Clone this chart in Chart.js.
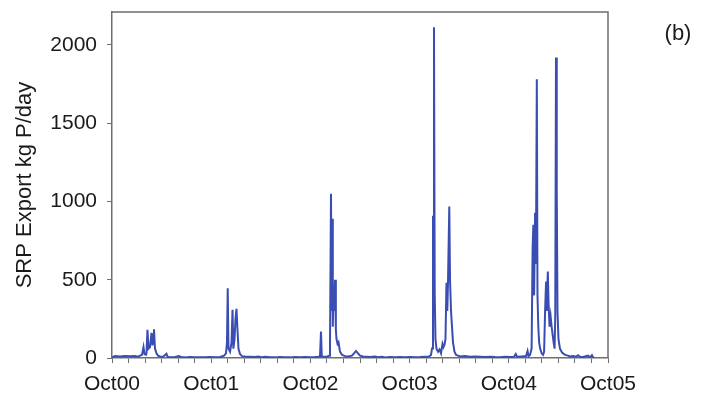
<!DOCTYPE html>
<html><head><meta charset="utf-8">
<script src="https://cdn.jsdelivr.net/npm/chart.js@4"></script>
<style>html,body{margin:0;padding:0;background:#fff}#wrap{width:701px;height:399px}</style>
</head><body><div id="wrap"><canvas id="c" width="701" height="399"></canvas></div>
<script>
// months since Oct 2000
const months = [0,0.36,0.97,1.57,2.18,2.78,3.15,3.39,3.63,3.81,3.93,4.11,4.17,4.29,4.42,4.60,4.78,4.90,5.02,5.08,5.20,5.38,5.56,5.81,6.17,6.59,6.71,7.02,7.62,8.10,8.35,8.83,9.44,10.04,10.65,11.25,11.86,
12.46,13.07,13.55,13.79,13.91,14.00,14.09,14.28,14.46,14.58,14.68,14.82,14.94,15.06,15.16,15.30,15.48,15.73,16.09,16.69,17.30,17.66,18.15,18.51,19.11,19.72,20.32,20.93,21.53,22.14,22.74,23.35,23.95,
24.56,24.92,25.16,25.28,25.38,25.65,26.01,26.25,26.37,26.49,26.58,26.64,26.71,26.80,26.86,26.98,27.08,27.16,27.28,27.40,27.58,27.83,28.19,28.55,29.03,29.28,29.52,29.76,30.00,30.36,30.85,31.21,31.81,32.18,32.66,33.02,33.63,34.23,34.84,35.44,
36.05,36.65,37.26,37.86,38.35,38.59,38.71,38.83,38.89,38.95,39.04,39.13,39.25,39.44,39.62,39.80,39.98,40.10,40.22,40.34,40.46,40.56,40.65,40.80,40.89,41.01,41.13,41.25,41.43,41.62,41.86,42.10,42.70,43.31,43.91,44.52,45.12,45.73,46.33,46.94,47.54,
48.15,48.63,48.84,49.00,49.60,50.09,50.27,50.39,50.57,50.76,50.88,50.97,51.06,51.18,51.28,51.39,51.47,51.57,51.67,51.79,51.97,52.14,52.27,52.39,52.51,52.59,52.72,52.81,52.93,53.06,53.18,53.30,53.42,53.54,53.62,53.71,53.80,53.89,54.01,54.19,54.44,54.80,55.16,55.41,55.77,56.13,56.37,56.61,56.98,57.22,57.58,57.82,58.06,58.19,58.31];
// SRP export, kg P/day
const srp = [5,12,10,12,11,12,8,15,20,70,25,20,30,180,60,70,160,80,150,184,60,30,15,10,8,27,8,5,6,12,5,4,6,5,4,5,6,
5,6,15,30,100,446,60,40,100,308,60,120,250,314,200,60,25,12,10,8,6,10,5,8,5,4,6,5,4,6,5,6,5,
6,8,10,169,10,8,8,15,60,1049,300,889,200,450,300,500,180,120,90,100,40,20,12,10,15,30,45,30,15,10,8,6,10,5,8,4,6,5,6,5,
6,5,6,8,10,20,60,908,300,2113,400,120,60,40,55,30,90,70,85,120,480,300,500,968,500,300,200,100,40,20,15,10,12,8,10,8,6,8,6,5,8,
6,8,25,8,10,12,45,12,20,60,700,851,400,927,600,1781,400,200,100,60,30,20,40,300,489,300,552,350,200,265,200,150,100,60,274,1919,1074,300,120,60,35,20,15,10,12,8,18,8,6,10,15,5,18,5,3];
const yTickValues = [0,500,1000,1500,2000];
const xTickValues = [0,2,4,6,8,10,12,14,16,18,20,22,24,26,28,30,32,34,36,38,40,42,44,46,48,50,52,54,56,58,60];
const xLabelMonths = [0,12,24,36,48,60];
const xLabels = ['Oct00','Oct01','Oct02','Oct03','Oct04','Oct05'];
const yTitle = 'SRP Export kg P/day';
const panelLabel = '(b)';

const FONT = 'Liberation Sans, Arial, Helvetica, sans-serif';
const framePlugin = {
  id: 'frame',
  afterDraw(chart) {
    const {ctx, chartArea: a} = chart;
    ctx.save();
    ctx.strokeStyle = '#6e6e6e';
    ctx.lineWidth = 1.5;
    ctx.beginPath();
    ctx.moveTo(a.left, a.top); ctx.lineTo(a.right, a.top); ctx.lineTo(a.right, a.bottom);
    ctx.stroke();
    ctx.fillStyle = '#1a1a1a';
    ctx.font = '22px ' + FONT;
    ctx.textAlign = 'center';
    ctx.textBaseline = 'middle';
    ctx.fillText(panelLabel, 678, 34);
    ctx.restore();
  }
};

new Chart(document.getElementById('c'), {
  type: 'line',
  data: {
    datasets: [{
      data: months.map((m, i) => ({x: m, y: srp[i]})),
      borderColor: '#3a4db2',
      borderWidth: 2,
      pointRadius: 0,
      tension: 0,
      fill: false
    }]
  },
  options: {
    responsive: false,
    devicePixelRatio: 1,
    animation: false,
    layout: {padding: {left: 0, top: 12, right: 93, bottom: 0}},
    plugins: {legend: {display: false}, tooltip: {enabled: false}},
    scales: {
      x: {
        type: 'linear',
        min: 0, max: 60,
        afterBuildTicks: s => { s.ticks = xTickValues.map(v => ({value: v})); },
        afterFit: s => { s.height = 41; },
        ticks: {
          autoSkip: false, maxRotation: 0, padding: 9,
          color: '#1a1a1a', font: {family: FONT, size: 21},
          callback: v => { const k = xLabelMonths.indexOf(v); return k >= 0 ? xLabels[k] : ''; }
        },
        grid: {drawOnChartArea: false, drawTicks: true, tickLength: 5, color: '#6e6e6e', lineWidth: 1},
        border: {display: true, color: '#6e6e6e', width: 1.5}
      },
      y: {
        type: 'linear',
        min: 0, max: 2210,
        afterBuildTicks: s => { s.ticks = yTickValues.map(v => ({value: v})); },
        afterFit: s => { s.width = 112; s.paddingTop = 0; },
        ticks: {padding: 10, color: '#1a1a1a', font: {family: FONT, size: 21}, callback: v => String(v)},
        grid: {drawOnChartArea: false, drawTicks: true, tickLength: 5, color: '#6e6e6e', lineWidth: 1},
        border: {display: true, color: '#6e6e6e', width: 1.5},
        title: {display: true, text: yTitle, color: '#1a1a1a', font: {family: FONT, size: 22}, padding: {top: 12, bottom: 0}}
      }
    }
  },
  plugins: [framePlugin]
});
</script>
</body></html>
